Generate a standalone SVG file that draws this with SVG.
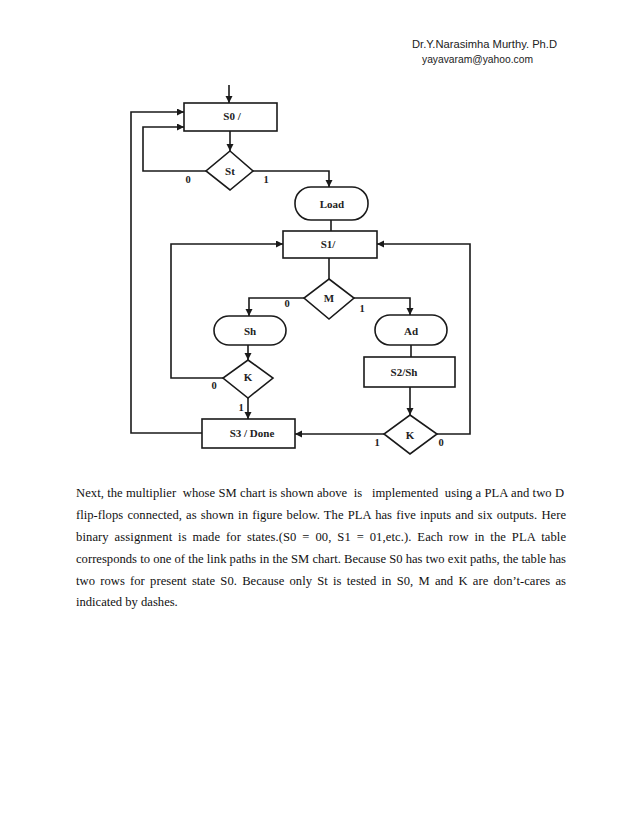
<svg xmlns="http://www.w3.org/2000/svg" width="638" height="826" viewBox="0 0 638 826">
<style>
.box{fill:#fff;stroke:#1a1a1a;stroke-width:1.6}
.lbl{font-family:"Liberation Serif",serif;font-weight:bold;font-size:11px;fill:#222;text-anchor:middle}
.num{font-family:"Liberation Serif",serif;font-weight:bold;font-size:10.5px;fill:#222;text-anchor:middle}
.con{fill:none;stroke:#1a1a1a;stroke-width:1.6}
.hdr{font-family:"Liberation Sans",sans-serif;font-size:11px;fill:#222}
.body{font-family:"Liberation Serif",serif;font-size:12.6px;fill:#111;white-space:pre}
</style>
<defs>
<marker id="ah" markerUnits="userSpaceOnUse" markerWidth="8" markerHeight="8" refX="7" refY="3.5" orient="auto">
<path d="M0,0 L7,3.5 L0,7 z" fill="#1a1a1a"/>
</marker>
</defs>
<rect width="638" height="826" fill="#fff"/>
<text class="hdr" x="412" y="48" textLength="145" lengthAdjust="spacingAndGlyphs">Dr.Y.Narasimha Murthy. Ph.D</text>
<text class="hdr" x="422" y="63" textLength="111" lengthAdjust="spacingAndGlyphs">yayavaram@yahoo.com</text>

<g id="connectors">
<path class="con" d="M229,85 L229,103" marker-end="url(#ah)"/>
<path class="con" d="M230,131 L230,151" marker-end="url(#ah)"/>
<path class="con" d="M206,171 L143,171 L143,127 L184,127" marker-end="url(#ah)"/>
<path class="con" d="M253,171 L329,171 L329,187" marker-end="url(#ah)"/>
<path class="con" d="M331,220 L331,231"/>
<path class="con" d="M329,258 L329,279"/>
<path class="con" d="M304,298 L249,298 L249,316" marker-end="url(#ah)"/>
<path class="con" d="M354,298 L410,298 L410,315" marker-end="url(#ah)"/>
<path class="con" d="M248,345 L248,360" marker-end="url(#ah)"/>
<path class="con" d="M223,378 L171,378 L171,244 L283,244" marker-end="url(#ah)"/>
<path class="con" d="M248,398 L248,419" marker-end="url(#ah)"/>
<path class="con" d="M202,433 L131,433 L131,112 L184,112" marker-end="url(#ah)"/>
<path class="con" d="M411,345 L411,357"/>
<path class="con" d="M410,387 L410,415" marker-end="url(#ah)"/>
<path class="con" d="M384,434 L295,434" marker-end="url(#ah)"/>
<path class="con" d="M437,434 L470,434 L470,244 L377,244" marker-end="url(#ah)"/>
</g>

<g id="S0">
<rect class="box" x="184" y="103" width="93" height="28"/>
<text class="lbl" x="232" y="120">S0 /</text>
</g>
<g id="St">
<path class="box" d="M230,151 L253,171 L230,190 L206,171 z"/>
<text class="lbl" x="230" y="174.5">St</text>
<text class="num" x="188" y="183">0</text>
<text class="num" x="266" y="183">1</text>
</g>
<g id="Load">
<rect class="box" x="295" y="187" width="73" height="33" rx="16" ry="16"/>
<text class="lbl" x="332" y="208">Load</text>
</g>
<g id="S1">
<rect class="box" x="283" y="231" width="94" height="27"/>
<text class="lbl" x="328" y="248">S1/</text>
</g>
<g id="M">
<path class="box" d="M329,279 L354,298 L329,319 L304,298 z"/>
<text class="lbl" x="329" y="302">M</text>
<text class="num" x="287" y="307">0</text>
<text class="num" x="362" y="312">1</text>
</g>
<g id="Sh">
<rect class="box" x="214" y="316" width="72" height="29" rx="15" ry="14.5"/>
<text class="lbl" x="250" y="335">Sh</text>
</g>
<g id="Ad">
<rect class="box" x="375" y="315" width="72" height="30" rx="15" ry="15"/>
<text class="lbl" x="411" y="335">Ad</text>
</g>
<g id="S2Sh">
<rect class="box" x="364" y="357" width="91" height="30"/>
<text class="lbl" x="404" y="376">S2/Sh</text>
</g>
<g id="K1">
<path class="box" d="M248,360 L273,378 L248,398 L223,378 z"/>
<text class="lbl" x="248" y="381">K</text>
<text class="num" x="214" y="389">0</text>
<text class="num" x="241" y="411">1</text>
</g>
<g id="S3">
<rect class="box" x="202" y="419" width="93" height="29"/>
<text class="lbl" x="252" y="437">S3 / Done</text>
</g>
<g id="K2">
<path class="box" d="M410,415 L437,434 L410,454 L384,434 z"/>
<text class="lbl" x="410" y="438.5">K</text>
<text class="num" x="377" y="446">1</text>
<text class="num" x="441" y="446">0</text>
</g>

<text class="body" x="76" y="497" textLength="488" lengthAdjust="spacing">Next, the multiplier  whose SM chart is shown above  is   implemented  using a PLA and two D</text>
<text class="body" x="76" y="518.5" textLength="490" lengthAdjust="spacing" word-spacing="1">flip-flops connected, as shown in figure below. The PLA has five inputs and six outputs. Here</text>
<text class="body" x="76" y="540.5" textLength="490" lengthAdjust="spacing" word-spacing="2.6">binary assignment is made for states.(S0 = 00, S1 = 01,etc.). Each row in the PLA table</text>
<text class="body" x="76" y="562.5" textLength="490" lengthAdjust="spacing">corresponds to one of the link paths in the SM chart. Because S0 has two exit paths, the table has</text>
<text class="body" x="76" y="584.5" textLength="490" lengthAdjust="spacing" word-spacing="2.1">two rows for present state S0. Because only St is tested in S0, M and K are don’t-cares as</text>
<text class="body" x="76" y="606">indicated by dashes.</text>
</svg>
